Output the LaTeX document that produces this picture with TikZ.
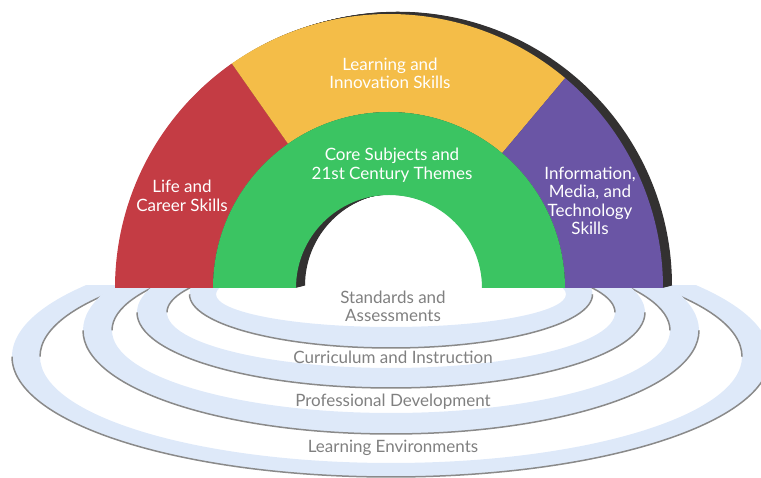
\documentclass[tikz,border=0pt]{standalone}
\usepackage{fontspec}
\setmainfont{Lato}
\usepackage{tikz}
\usetikzlibrary{shapes.geometric}

\definecolor{lifered}{RGB}{196,60,68}
\definecolor{learnyellow}{RGB}{244,189,72}
\definecolor{coregreen}{RGB}{59,196,98}
\definecolor{infopurple}{RGB}{106,85,165}
\definecolor{archshadow}{RGB}{51,49,49}
\definecolor{ringblue}{RGB}{222,233,249}
\definecolor{rimgray}{RGB}{138,138,138}
\definecolor{labelgray}{RGB}{128,128,128}

\begin{document}
\begin{tikzpicture}[x=1pt,y=1pt,
  band/.style={fill=ringblue, even odd rule},
  rim/.style={draw=rimgray, line width=1.5pt},
  archtext/.style={text=white, align=center, font=\fontsize{17}{18.5}\selectfont},
  ringtext/.style={text=labelgray, align=center, font=\fontsize{17}{18}\selectfont}]
 \useasboundingbox (0,0) rectangle (761,478);
 % the four rings below the arch
 \begin{scope}
  \clip (0,0) rectangle (761,192);
  \fill[band] (391,121.4) ellipse [x radius=379, y radius=120.4] (391,121.4) ellipse [x radius=351, y radius=106.4];
  \draw[rim] (391,121.4) ++(379,0) arc[start angle=0, end angle=-180, x radius=379, y radius=120.4];
  \draw[rim] (391,121.4) ++(351,0) arc[start angle=0, end angle=180, x radius=351, y radius=106.4];
  \fill[band] (391,147.6) ellipse [x radius=308, y radius=103.6] (391,147.6) ellipse [x radius=279, y radius=82.6];
  \draw[rim] (391,147.6) ++(308,0) arc[start angle=0, end angle=-180, x radius=308, y radius=103.6];
  \draw[rim] (391,147.6) ++(279,0) arc[start angle=0, end angle=180, x radius=279, y radius=82.6];
  \fill[band] (391,165.6) ellipse [x radius=254, y radius=75.6] (391,165.6) ellipse [x radius=224, y radius=55.6];
  \draw[rim] (391,165.6) ++(254,0) arc[start angle=0, end angle=-180, x radius=254, y radius=75.6];
  \draw[rim] (391,165.6) ++(224,0) arc[start angle=0, end angle=180, x radius=224, y radius=55.6];
  \fill[band] (391,183.7) ellipse [x radius=201.5, y radius=53.7] (391,183.7) ellipse [x radius=175, y radius=32.7];
  \draw[rim] (391,183.7) ++(201.5,0) arc[start angle=0, end angle=-180, x radius=201.5, y radius=53.7];
 \end{scope}
 % the arch
 \begin{scope}[shift={(389,190)}]
  \foreach \s in {1,...,9}
   \fill[archshadow, shift={(\s,\s/4)}] (0:274) arc[start angle=0, end angle=180, radius=274]
     -- (180:93) arc[start angle=180, end angle=0, radius=93] -- cycle;
  \fill[lifered] (180:274) arc[start angle=180, end angle=125, radius=274]
     -- (125:176) arc[start angle=125, end angle=180, radius=176] -- cycle;
  \fill[learnyellow] (125:274) arc[start angle=125, end angle=50, radius=274]
     -- (50:176) arc[start angle=50, end angle=125, radius=176] -- cycle;
  \fill[infopurple] (50:274) arc[start angle=50, end angle=0, radius=274]
     -- (0:176) arc[start angle=0, end angle=50, radius=176] -- cycle;
  \fill[coregreen] (0:176) arc[start angle=0, end angle=180, radius=176]
     -- (180:93) arc[start angle=180, end angle=0, radius=93] -- cycle;
 \end{scope}
 \node[archtext] (learn) at (390,404.5) {Learning and\\Innovation Skills};
 \node[archtext] (core) at (392,313) {Core Subjects and\\21st Century Themes};
 \node[archtext] (life) at (182,282) {Life and\\Career Skills};
 \node[archtext] (info) at (590,277) {Information,\\Media, and\\Technology\\Skills};
 \node[ringtext] (stand) at (393,172) {Standards and\\Assessments};
 \node[ringtext] (curr) at (393,121) {Curriculum and Instruction};
 \node[ringtext] (prof) at (393,76) {Professional Development};
 \node[ringtext] (env) at (393,30) {Learning Environments};
\end{tikzpicture}
\end{document}
